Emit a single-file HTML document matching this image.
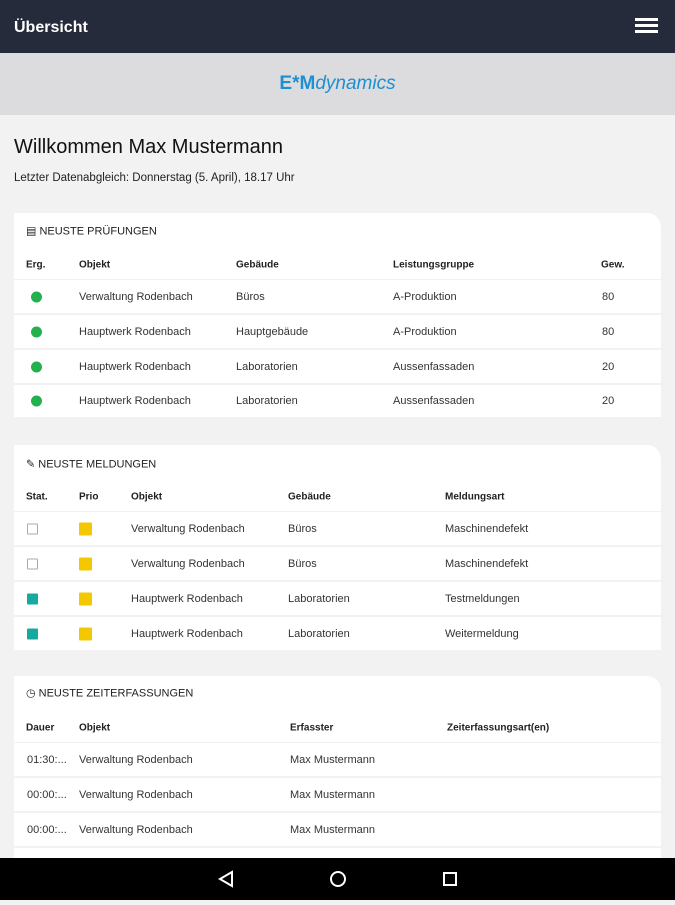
<!DOCTYPE html>
<html><head><meta charset="utf-8"><style>
*{margin:0;padding:0;box-sizing:border-box}
body{width:675px;height:900px;overflow:hidden;background:#f2f2f3;font-family:"Liberation Sans",sans-serif;color:#222;position:relative}
.top{position:absolute;left:0;top:0;width:675px;height:53px;background:#262b3b;color:#fff;font-weight:bold;font-size:16px}
.logo{position:absolute;top:53px;left:0;width:675px;height:62px;background:#dcdcde;text-align:center;line-height:62px;color:#1e8fd0;font-size:19px;font-weight:bold}
.card{position:absolute;left:14px;width:647px;background:#f2f2f3;border-top-right-radius:14px;overflow:hidden}
.row{position:absolute;left:0;width:647px;height:33px;background:#fff;font-size:11px;color:#333}
.row span,.hd span{position:absolute;top:50%;transform:translateY(-50%);white-space:nowrap}
.hd{position:absolute;left:0;width:647px;background:#fff;font-size:10px;font-weight:bold;color:#222}
.dot{width:11px;height:11px;border-radius:50%;background:#22b14c}
.y{width:13px;height:13px;background:#f4c800;border-radius:1px}
.sq{width:11px;height:11px;border:1px solid #aaa;border-radius:1px}
.sq.t{background:#17a9a0;border-color:#17a9a0}
.nav{position:absolute;left:0;top:858px;width:675px;height:42px;background:#000}
</style></head><body>
<div class="top"><span style="position:absolute;left:14px;top:19px">Übersicht</span>
<div style="position:absolute;left:635px;top:18px;width:23px;height:3px;background:#fff;box-shadow:0 6px 0 #fff,0 12px 0 #fff"></div></div>
<div class="logo">E*M<i style="font-weight:normal">dynamics</i></div>
<div style="position:absolute;left:14px;top:136px;font-size:20px;color:#111">Willkommen Max Mustermann</div>
<div style="position:absolute;left:14px;top:172px;font-size:11.5px;color:#222">Letzter Datenabgleich: Donnerstag (5. April), 18.17 Uhr</div>

<div class="card" style="top:213px;height:204px">
<div class="hd" style="top:0;height:66px">
<span style="top:18px;left:12px;font-size:11px;font-weight:normal">▤ NEUSTE PRÜFUNGEN</span>
<span style="top:52px;left:12px">Erg.</span><span style="top:52px;left:65px">Objekt</span><span style="top:52px;left:222px">Gebäude</span><span style="top:52px;left:379px">Leistungsgruppe</span><span style="top:52px;left:587px">Gew.</span></div>
<div class="row" style="top:67px"><span class="dot" style="left:17px"></span><span style="left:65px">Verwaltung Rodenbach</span><span style="left:222px">Büros</span><span style="left:379px">A-Produktion</span><span style="left:588px">80</span></div>
<div class="row" style="top:102px"><span class="dot" style="left:17px"></span><span style="left:65px">Hauptwerk Rodenbach</span><span style="left:222px">Hauptgebäude</span><span style="left:379px">A-Produktion</span><span style="left:588px">80</span></div>
<div class="row" style="top:137px"><span class="dot" style="left:17px"></span><span style="left:65px">Hauptwerk Rodenbach</span><span style="left:222px">Laboratorien</span><span style="left:379px">Aussenfassaden</span><span style="left:588px">20</span></div>
<div class="row" style="top:172px;height:32px"><span class="dot" style="left:17px"></span><span style="left:65px">Hauptwerk Rodenbach</span><span style="left:222px">Laboratorien</span><span style="left:379px">Aussenfassaden</span><span style="left:588px">20</span></div>
</div>

<div class="card" style="top:445px;height:205px">
<div class="hd" style="top:0;height:66px">
<span style="top:19px;left:12px;font-size:11px;font-weight:normal">✎ NEUSTE MELDUNGEN</span>
<span style="top:52px;left:12px">Stat.</span><span style="top:52px;left:65px">Prio</span><span style="top:52px;left:117px">Objekt</span><span style="top:52px;left:274px">Gebäude</span><span style="top:52px;left:431px">Meldungsart</span></div>
<div class="row" style="top:67px"><span class="sq" style="left:13px"></span><span class="y" style="left:65px"></span><span style="left:117px">Verwaltung Rodenbach</span><span style="left:274px">Büros</span><span style="left:431px">Maschinendefekt</span></div>
<div class="row" style="top:102px"><span class="sq" style="left:13px"></span><span class="y" style="left:65px"></span><span style="left:117px">Verwaltung Rodenbach</span><span style="left:274px">Büros</span><span style="left:431px">Maschinendefekt</span></div>
<div class="row" style="top:137px"><span class="sq t" style="left:13px"></span><span class="y" style="left:65px"></span><span style="left:117px">Hauptwerk Rodenbach</span><span style="left:274px">Laboratorien</span><span style="left:431px">Testmeldungen</span></div>
<div class="row" style="top:172px"><span class="sq t" style="left:13px"></span><span class="y" style="left:65px"></span><span style="left:117px">Hauptwerk Rodenbach</span><span style="left:274px">Laboratorien</span><span style="left:431px">Weitermeldung</span></div>
</div>

<div class="card" style="top:676px;height:182px">
<div class="hd" style="top:0;height:66px">
<span style="top:17px;left:12px;font-size:11px;font-weight:normal">◷ NEUSTE ZEITERFASSUNGEN</span>
<span style="top:52px;left:12px">Dauer</span><span style="top:52px;left:65px">Objekt</span><span style="top:52px;left:276px">Erfasster</span><span style="top:52px;left:433px">Zeiterfassungsart(en)</span></div>
<div class="row" style="top:67px"><span style="left:13px">01:30:...</span><span style="left:65px">Verwaltung Rodenbach</span><span style="left:276px">Max Mustermann</span></div>
<div class="row" style="top:102px"><span style="left:13px">00:00:...</span><span style="left:65px">Verwaltung Rodenbach</span><span style="left:276px">Max Mustermann</span></div>
<div class="row" style="top:137px"><span style="left:13px">00:00:...</span><span style="left:65px">Verwaltung Rodenbach</span><span style="left:276px">Max Mustermann</span></div>
<div class="row" style="top:172px"></div>
</div>

<div class="nav">
<svg width="675" height="42"><polygon points="232,14 232,28 220,21" fill="none" stroke="#fff" stroke-width="2"/><circle cx="338" cy="21" r="7" fill="none" stroke="#fff" stroke-width="2"/><rect x="444" y="15" width="12" height="12" fill="none" stroke="#fff" stroke-width="2"/></svg>
</div>
</body></html>
